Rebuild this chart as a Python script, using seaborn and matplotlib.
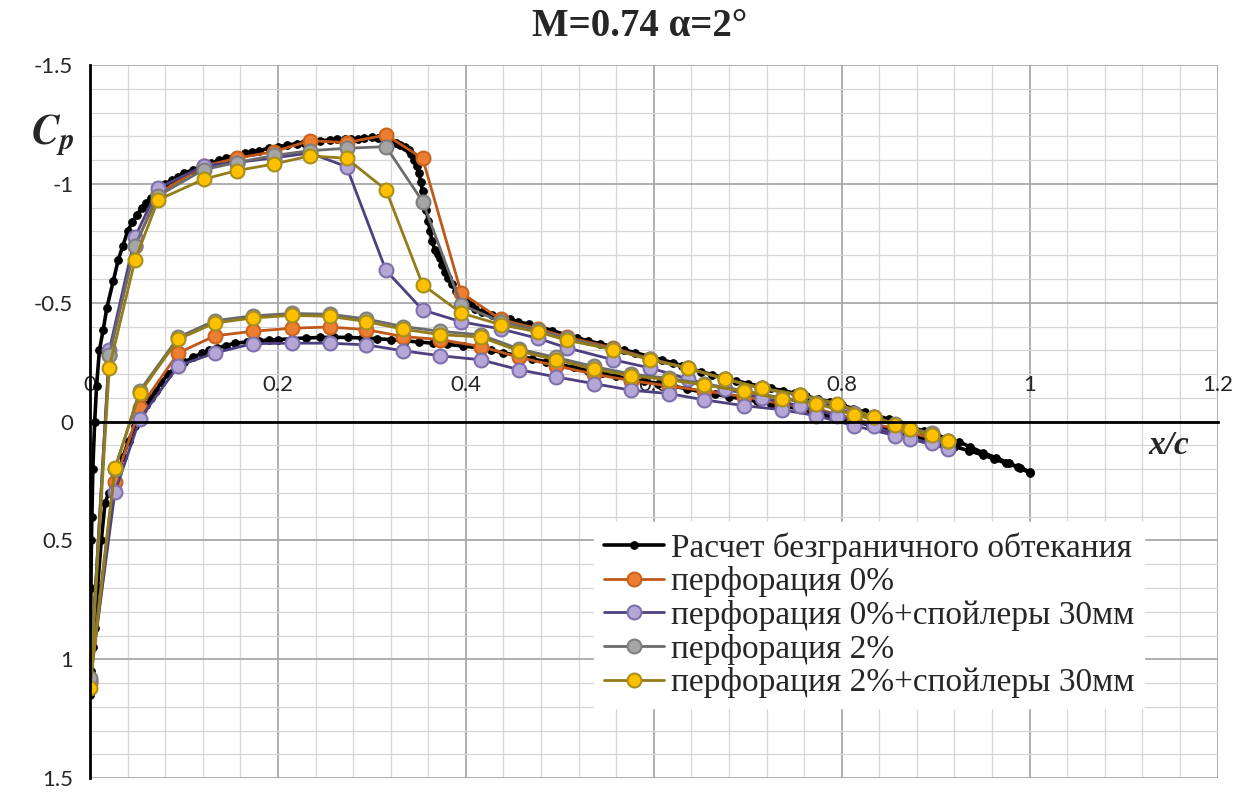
import numpy as np
import matplotlib
matplotlib.use("Agg")
import matplotlib.pyplot as plt
from matplotlib.ticker import MultipleLocator, FuncFormatter
import seaborn as sns

# ---- data (x/c, Cp) ----
# pressure ports on the upper surface (leading edge first)
x_upper = [0.0, 0.0205, 0.0478, 0.0725, 0.121, 0.156, 0.196, 0.234, 0.273, 0.315,
           0.354, 0.395, 0.437, 0.477, 0.508, 0.557, 0.596, 0.636, 0.676, 0.715,
           0.756, 0.795, 0.834, 0.873, 0.913]
# pressure ports on the lower surface
x_lower = [0.0265, 0.053, 0.094, 0.133, 0.173, 0.215, 0.255, 0.294, 0.333, 0.373,
           0.416, 0.457, 0.496, 0.536, 0.576, 0.616, 0.653, 0.696, 0.736, 0.773,
           0.813, 0.857, 0.896]

# перфорация 0%
cp_p0_upper = [1.10, -0.28, -0.737, -0.96, -1.075, -1.108, -1.136, -1.182, -1.174, -1.206,
               -1.108, -0.543, -0.43, -0.39, -0.355, -0.31, -0.265, -0.225, -0.18, -0.14,
               -0.11, -0.07, -0.02, 0.03, 0.08]
cp_p0_lower = [0.255, -0.057, -0.289, -0.361, -0.38, -0.393, -0.398, -0.387, -0.358, -0.345,
               -0.316, -0.27, -0.235, -0.2, -0.172, -0.15, -0.13, -0.105, -0.075, -0.055,
               -0.01, 0.03, 0.07]

# перфорация 0%+спойлеры 30мм
cp_p0s_upper = [1.09, -0.30, -0.776, -0.982, -1.076, -1.09, -1.11, -1.13, -1.073, -0.636,
                -0.47, -0.42, -0.39, -0.35, -0.31, -0.26, -0.226, -0.18, -0.137, -0.10,
                -0.067, -0.025, 0.02, 0.073, 0.115]
cp_p0s_lower = [0.297, -0.011, -0.235, -0.289, -0.328, -0.33, -0.33, -0.323, -0.298, -0.277,
                -0.26, -0.218, -0.188, -0.16, -0.132, -0.118, -0.092, -0.067, -0.05, -0.025,
                0.017, 0.059, 0.09]

# перфорация 2%
cp_p2_upper = [1.08, -0.28, -0.74, -0.95, -1.06, -1.09, -1.12, -1.14, -1.15, -1.157,
               -0.926, -0.492, -0.42, -0.385, -0.35, -0.305, -0.262, -0.225, -0.178, -0.14,
               -0.11, -0.072, -0.02, 0.03, 0.08]
cp_p2_lower = [0.20, -0.13, -0.355, -0.425, -0.445, -0.455, -0.452, -0.432, -0.40, -0.38,
               -0.365, -0.305, -0.27, -0.232, -0.20, -0.182, -0.16, -0.13, -0.10, -0.08,
               -0.035, 0.01, 0.05]

# перфорация 2%+спойлеры 30мм
cp_p2s_upper = [1.12, -0.226, -0.678, -0.933, -1.02, -1.056, -1.084, -1.118, -1.108, -0.975,
                -0.576, -0.457, -0.408, -0.377, -0.342, -0.303, -0.26, -0.226, -0.179, -0.141,
                -0.113, -0.076, -0.02, 0.031, 0.083]
cp_p2s_lower = [0.195, -0.12, -0.347, -0.415, -0.436, -0.447, -0.443, -0.421, -0.389, -0.366,
                -0.356, -0.296, -0.26, -0.221, -0.193, -0.176, -0.155, -0.127, -0.095, -0.076,
                -0.029, 0.013, 0.055]

# Расчет безграничного обтекания (calculation, dense points)
x_calc_upper = [0.0, 0.0005, 0.001, 0.0015, 0.002, 0.003, 0.005, 0.007, 0.010, 0.014,
                0.018, 0.0247, 0.03, 0.035, 0.04, 0.045, 0.05, 0.055, 0.06, 0.065,
                0.069, 0.075, 0.08, 0.087, 0.094, 0.1, 0.11, 0.12, 0.129, 0.137,
                0.145, 0.155, 0.165, 0.172, 0.18, 0.19, 0.2, 0.21, 0.22, 0.228,
                0.236, 0.245, 0.255, 0.263, 0.271, 0.278, 0.285, 0.292, 0.3, 0.306,
                0.312, 0.317, 0.321, 0.326, 0.33, 0.335, 0.339, 0.342, 0.345, 0.348,
                0.35, 0.352, 0.354, 0.356, 0.358, 0.36, 0.362, 0.364, 0.367, 0.37,
                0.372, 0.375, 0.378, 0.381, 0.385, 0.39, 0.396, 0.4, 0.405, 0.41,
                0.417, 0.428, 0.439, 0.447, 0.456, 0.467, 0.478, 0.492, 0.506, 0.518,
                0.53, 0.543, 0.556, 0.568, 0.58, 0.595, 0.609, 0.62, 0.63, 0.64,
                0.65, 0.662, 0.675, 0.688, 0.7, 0.712, 0.725, 0.738, 0.75, 0.762,
                0.775, 0.788, 0.8, 0.812, 0.825, 0.838, 0.85, 0.862, 0.875, 0.888,
                0.9, 0.912, 0.925, 0.937, 0.95, 0.964, 0.978, 0.99, 1.0]
cp_calc_upper = [1.15, 0.9, 0.7, 0.5, 0.4, 0.2, 0.0, -0.15, -0.3, -0.385,
                 -0.48, -0.59, -0.68, -0.74, -0.8, -0.84, -0.87, -0.9, -0.92, -0.94,
                 -0.96, -0.98, -1.0, -1.015, -1.03, -1.045, -1.06, -1.075, -1.087, -1.1,
                 -1.11, -1.12, -1.129, -1.135, -1.14, -1.15, -1.157, -1.163, -1.17, -1.174,
                 -1.178, -1.182, -1.185, -1.187, -1.188, -1.189, -1.19, -1.193, -1.196, -1.194,
                 -1.19, -1.185, -1.178, -1.172, -1.165, -1.155, -1.143, -1.125, -1.1, -1.075,
                 -1.045, -1.01, -0.97, -0.93, -0.89, -0.845, -0.8, -0.76, -0.723, -0.705,
                 -0.69, -0.66, -0.63, -0.605, -0.58, -0.55, -0.52, -0.505, -0.49, -0.475,
                 -0.46, -0.45, -0.44, -0.43, -0.42, -0.41, -0.40, -0.383, -0.366, -0.353,
                 -0.34, -0.328, -0.316, -0.303, -0.29, -0.275, -0.26, -0.248, -0.235, -0.222,
                 -0.21, -0.198, -0.185, -0.172, -0.16, -0.15, -0.14, -0.13, -0.12, -0.108,
                 -0.095, -0.083, -0.07, -0.055, -0.04, -0.025, -0.01, 0.008, 0.025, 0.04,
                 0.055, 0.07, 0.085, 0.107, 0.13, 0.152, 0.174, 0.195, 0.216]
x_calc_lower = [0.001, 0.003, 0.005, 0.008, 0.012, 0.016, 0.02, 0.026, 0.03, 0.035,
                0.041, 0.048, 0.054, 0.06, 0.065, 0.07, 0.076, 0.083, 0.09, 0.1,
                0.11, 0.119, 0.127, 0.135, 0.145, 0.154, 0.167, 0.18, 0.19, 0.2,
                0.215, 0.23, 0.245, 0.26, 0.275, 0.29, 0.305, 0.32, 0.335, 0.35,
                0.365, 0.38, 0.397, 0.414, 0.427, 0.44, 0.455, 0.47, 0.485, 0.5,
                0.515, 0.53, 0.545, 0.56, 0.575, 0.59, 0.605, 0.62, 0.635, 0.65,
                0.665, 0.68, 0.695, 0.71, 0.725, 0.74, 0.755, 0.77, 0.785, 0.8,
                0.815, 0.83, 0.845, 0.86, 0.875, 0.89, 0.905, 0.92, 0.935, 0.95,
                0.962, 0.975, 0.988, 1.0]
cp_calc_lower = [1.05, 0.95, 0.87, 0.7, 0.5, 0.342, 0.3, 0.258, 0.21, 0.15,
                 0.08, 0.02, -0.025, -0.07, -0.1, -0.13, -0.165, -0.2, -0.225, -0.25,
                 -0.27, -0.289, -0.3, -0.31, -0.32, -0.33, -0.335, -0.34, -0.343, -0.345,
                 -0.349, -0.352, -0.354, -0.355, -0.354, -0.352, -0.349, -0.345, -0.34, -0.335,
                 -0.33, -0.325, -0.318, -0.31, -0.3, -0.29, -0.278, -0.265, -0.252, -0.24,
                 -0.228, -0.215, -0.203, -0.19, -0.18, -0.17, -0.16, -0.15, -0.138, -0.125,
                 -0.115, -0.105, -0.095, -0.085, -0.075, -0.065, -0.052, -0.04, -0.027, -0.015,
                 0.0, 0.015, 0.03, 0.045, 0.06, 0.075, 0.09, 0.105, 0.122, 0.14,
                 0.157, 0.175, 0.192, 0.21]

labels = ["Расчет безграничного обтекания",
          "перфорация 0%",
          "перфорация 0%+спойлеры 30мм",
          "перфорация 2%",
          "перфорация 2%+спойлеры 30мм"]

# ---- style ----
sns.set_style("white")
plt.rcParams["font.family"] = ["Lato", "DejaVu Sans"]
plt.rcParams["axes.unicode_minus"] = False
plt.rcParams["mathtext.fontset"] = "stix"

fig = plt.figure(figsize=(12.5, 7.94), dpi=100)
ax = fig.add_axes([0.072, 0.020, 0.902, 0.898])


def loop(xu, cu, xl, cl):
    # trailing edge -> leading edge along upper, then back along lower
    return list(xu[::-1]) + list(xl), list(cu[::-1]) + list(cl)


handles = []

xs, ys = loop(x_calc_upper, cp_calc_upper, x_calc_lower, cp_calc_lower)
sns.lineplot(x=xs, y=ys, sort=False, estimator=None, ax=ax, color="black",
             linewidth=2.6, marker="o", markersize=5.5, markerfacecolor="black",
             markeredgecolor="black", legend=False)
handles.append(ax.lines[-1])

series = [
    (cp_p0_upper, cp_p0_lower, "#C0581A", "#ED7D31", "#C8641E"),
    (cp_p0s_upper, cp_p0s_lower, "#4E3F80", "#B4A7D6", "#7E70AE"),
    (cp_p2_upper, cp_p2_lower, "#6B6B6B", "#A5A5A5", "#7F7F7F"),
    (cp_p2s_upper, cp_p2s_lower, "#927C1C", "#FFC000", "#A8901E"),
]
for cu, cl, lc, fc, ec in series:
    xs, ys = loop(x_upper, cu, x_lower, cl)
    sns.lineplot(x=xs, y=ys, sort=False, estimator=None, ax=ax, color=lc,
                 linewidth=2.0, marker="o", markersize=10, markerfacecolor=fc,
                 markeredgecolor=ec, markeredgewidth=1.5, legend=False)
    handles.append(ax.lines[-1])

# ---- axes ----
ax.set_xlim(0, 1.2)
ax.set_ylim(1.5, -1.5)
ax.xaxis.set_major_locator(MultipleLocator(0.2))
ax.xaxis.set_minor_locator(MultipleLocator(0.04))
ax.yaxis.set_major_locator(MultipleLocator(0.5))
ax.yaxis.set_minor_locator(MultipleLocator(0.1))
ax.grid(which="major", color="#A8A8A8", linewidth=1.3)
ax.grid(which="minor", color="#D6D6D6", linewidth=0.9)
ax.set_axisbelow(True)

fmt = FuncFormatter(lambda v, p: f"{v:g}")
ax.xaxis.set_major_formatter(fmt)
ax.yaxis.set_major_formatter(fmt)

for side in ["right", "bottom"]:
    ax.spines[side].set_visible(False)
ax.spines["left"].set_color("black")
ax.spines["left"].set_linewidth(2.0)
ax.spines["top"].set_position(("data", 0))
ax.spines["top"].set_color("black")
ax.spines["top"].set_linewidth(2.0)
ax.xaxis.set_ticks_position("top")
ax.tick_params(axis="x", which="both", length=0, pad=19, labelsize=16)
ax.tick_params(axis="y", which="both", length=0, pad=12, labelsize=16)
ax.set_xlabel("")
ax.set_ylabel("")

ax.text(-0.033, 0.902, r"$\mathbfit{C}_{\mathbfit{p}}$", transform=ax.transAxes,
        fontsize=30, ha="center", va="center")
ax.text(0.957, 0.466, "x/c", transform=ax.transAxes, fontsize=24,
        family="Liberation Serif", weight="bold", style="italic",
        ha="center", va="center")

fig.text(0.512, 0.966, "M=0.74 α=2°", fontsize=28, family="Liberation Serif",
         weight="bold", ha="center", va="center")

leg = ax.legend(handles, labels, loc="lower right", bbox_to_anchor=(0.935, 0.098),
                frameon=True, fancybox=False, framealpha=1.0, facecolor="white",
                edgecolor="white", borderaxespad=0, handlelength=1.8,
                handletextpad=0.2, labelspacing=0.08, borderpad=0.3,
                prop={"family": "Liberation Serif", "size": 24})

fig.savefig("out.png", dpi=100)
